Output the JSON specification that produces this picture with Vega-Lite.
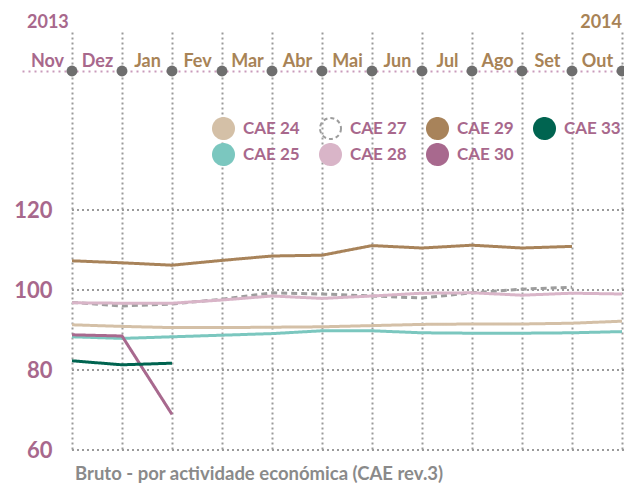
{
  "$schema": "https://vega.github.io/schema/vega-lite/v6.json",
  "autosize": "none",
  "padding": {"left": 22, "top": 32, "right": 2, "bottom": 34},
  "width": 600,
  "height": 418,
  "background": "white",
  "config": {"view": {"stroke": null}, "font": "Lato"},
  "resolve": {"axis": {"x": "independent", "y": "independent"}},
  "title": {
    "text": "Bruto - por actividade económica (CAE rev.3)",
    "orient": "bottom",
    "anchor": "start",
    "frame": "group",
    "dx": 53,
    "offset": 19,
    "font": "Lato",
    "fontSize": 18.5,
    "fontWeight": "bold",
    "color": "#8a8a8a",
    "baseline": "alphabetic"
  },
  "datasets": {
    "grid": [{"v": 60}, {"v": 80}, {"v": 100}, {"v": 120}],
    "ticks": [{"t": 0}, {"t": 1}, {"t": 2}, {"t": 3}, {"t": 4}, {"t": 5}, {"t": 6}, {"t": 7}, {"t": 8}, {"t": 9}, {"t": 10}, {"t": 11}],
    "years": [{"year": "2013"}, {"year": "2014"}],
    "series": [
      {"series": "CAE 24", "t": 0, "value": 91.3},
      {"series": "CAE 24", "t": 1, "value": 90.9},
      {"series": "CAE 24", "t": 2, "value": 90.6},
      {"series": "CAE 24", "t": 3, "value": 90.6},
      {"series": "CAE 24", "t": 4, "value": 90.7},
      {"series": "CAE 24", "t": 5, "value": 90.8},
      {"series": "CAE 24", "t": 6, "value": 91.1},
      {"series": "CAE 24", "t": 7, "value": 91.4},
      {"series": "CAE 24", "t": 8, "value": 91.5},
      {"series": "CAE 24", "t": 9, "value": 91.5},
      {"series": "CAE 24", "t": 10, "value": 91.7},
      {"series": "CAE 24", "t": 11, "value": 92.2},
      {"series": "CAE 25", "t": 0, "value": 88.3},
      {"series": "CAE 25", "t": 1, "value": 87.9},
      {"series": "CAE 25", "t": 2, "value": 88.3},
      {"series": "CAE 25", "t": 3, "value": 88.7},
      {"series": "CAE 25", "t": 4, "value": 89.1},
      {"series": "CAE 25", "t": 5, "value": 89.8},
      {"series": "CAE 25", "t": 6, "value": 89.8},
      {"series": "CAE 25", "t": 7, "value": 89.3},
      {"series": "CAE 25", "t": 8, "value": 89.2},
      {"series": "CAE 25", "t": 9, "value": 89.2},
      {"series": "CAE 25", "t": 10, "value": 89.3},
      {"series": "CAE 25", "t": 11, "value": 89.6},
      {"series": "CAE 27", "t": 0, "value": 96.9},
      {"series": "CAE 27", "t": 1, "value": 96.0},
      {"series": "CAE 27", "t": 2, "value": 96.5},
      {"series": "CAE 27", "t": 3, "value": 97.7},
      {"series": "CAE 27", "t": 4, "value": 99.3},
      {"series": "CAE 27", "t": 5, "value": 99.0},
      {"series": "CAE 27", "t": 6, "value": 98.5},
      {"series": "CAE 27", "t": 7, "value": 98.0},
      {"series": "CAE 27", "t": 8, "value": 99.3},
      {"series": "CAE 27", "t": 9, "value": 100.2},
      {"series": "CAE 27", "t": 10, "value": 100.7},
      {"series": "CAE 28", "t": 0, "value": 96.8},
      {"series": "CAE 28", "t": 1, "value": 96.7},
      {"series": "CAE 28", "t": 2, "value": 96.7},
      {"series": "CAE 28", "t": 3, "value": 97.5},
      {"series": "CAE 28", "t": 4, "value": 98.5},
      {"series": "CAE 28", "t": 5, "value": 97.9},
      {"series": "CAE 28", "t": 6, "value": 98.5},
      {"series": "CAE 28", "t": 7, "value": 99.2},
      {"series": "CAE 28", "t": 8, "value": 99.3},
      {"series": "CAE 28", "t": 9, "value": 98.7},
      {"series": "CAE 28", "t": 10, "value": 99.2},
      {"series": "CAE 28", "t": 11, "value": 99.0},
      {"series": "CAE 29", "t": 0, "value": 107.3},
      {"series": "CAE 29", "t": 1, "value": 106.8},
      {"series": "CAE 29", "t": 2, "value": 106.2},
      {"series": "CAE 29", "t": 3, "value": 107.4},
      {"series": "CAE 29", "t": 4, "value": 108.5},
      {"series": "CAE 29", "t": 5, "value": 108.7},
      {"series": "CAE 29", "t": 6, "value": 111.1},
      {"series": "CAE 29", "t": 7, "value": 110.5},
      {"series": "CAE 29", "t": 8, "value": 111.2},
      {"series": "CAE 29", "t": 9, "value": 110.5},
      {"series": "CAE 29", "t": 10, "value": 110.9},
      {"series": "CAE 30", "t": 0, "value": 88.8},
      {"series": "CAE 30", "t": 1, "value": 88.5},
      {"series": "CAE 30", "t": 2, "value": 68.9},
      {"series": "CAE 33", "t": 0, "value": 82.3},
      {"series": "CAE 33", "t": 1, "value": 81.3},
      {"series": "CAE 33", "t": 2, "value": 81.7}
    ]
  },
  "layer": [
    {
      "data": {"name": "grid"},
      "mark": {"type": "rule", "stroke": "#9a9a9a", "strokeWidth": 2, "strokeDash": [2, 3]},
      "encoding": {
        "y": {
          "field": "v", "type": "quantitative",
          "scale": {"domain": [60, 164.5], "nice": false, "zero": false},
          "axis": {
            "orient": "left", "offset": -30, "values": [60, 80, 100, 120], "title": null,
            "grid": false, "ticks": false, "domain": false,
            "labelFont": "Lato", "labelFontSize": 22, "labelFontWeight": "bold", "labelColor": "#a8688c",
            "labelPadding": 0, "labelOverlap": false, "labelFlush": false
          }
        },
        "x": {"datum": 0, "type": "quantitative", "scale": {"domain": [-1, 11], "nice": false, "zero": false}, "axis": null},
        "x2": {"datum": 11.04}
      }
    },
    {
      "data": {"name": "ticks"},
      "mark": {"type": "point", "filled": true, "color": "#6e6e6e", "size": 120, "opacity": 1},
      "encoding": {
        "x": {
          "field": "t", "type": "quantitative",
          "scale": {"domain": [-1, 11], "nice": false, "zero": false},
          "axis": {
            "orient": "bottom", "values": [0, 1, 2, 3, 4, 5, 6, 7, 8, 9, 10, 11],
            "grid": true, "gridColor": "#9a9a9a", "gridWidth": 2, "gridDash": [2, 3], "gridOpacity": 1,
            "labels": false, "ticks": false, "domain": false, "title": null
          }
        },
        "y": {"datum": 154.75, "type": "quantitative", "scale": {"domain": [60, 164.5], "nice": false, "zero": false}, "axis": null}
      }
    },
    {
      "data": {"name": "series"},
      "mark": {"type": "line", "strokeWidth": 3},
      "encoding": {
        "x": {
          "field": "t", "type": "quantitative",
          "scale": {"domain": [-1, 11], "nice": false, "zero": false},
          "axis": {
            "orient": "top", "offset": -39, "title": null,
            "values": [-0.5, 0.5, 1.5, 2.5, 3.5, 4.5, 5.5, 6.5, 7.5, 8.5, 9.5, 10.5],
            "labelExpr": "['Nov','Dez','Jan','Fev','Mar','Abr','Mai','Jun','Jul','Ago','Set','Out'][datum.value + 0.5]",
            "grid": false, "ticks": false, "tickSize": 0,
            "domain": true, "domainColor": "#c99bbb", "domainWidth": 2, "domainDash": [2, 4],
            "labelFont": "Lato", "labelFontSize": 18, "labelFontWeight": "bold",
            "labelColor": {"condition": {"test": "datum.value < 1", "value": "#a8688c"}, "value": "#a88356"},
            "labelBaseline": "alphabetic", "labelPadding": 5, "labelOverlap": false, "labelFlush": false
          }
        },
        "y": {
          "field": "value", "type": "quantitative",
          "scale": {"domain": [60, 164.5], "nice": false, "zero": false},
          "axis": null
        },
        "color": {
          "field": "series", "type": "nominal",
          "scale": {
            "domain": ["CAE 24", "CAE 27", "CAE 29", "CAE 33", "CAE 25", "CAE 28", "CAE 30"],
            "range": ["#d4c0a7", "#9d9d9d", "#a8835a", "#006450", "#7bc7bf", "#d9b5c8", "#a8698e"]
          },
          "legend": {
            "orient": "none", "legendX": 190, "legendY": 85, "direction": "horizontal", "columns": 4,
            "title": null, "padding": 0, "symbolType": "circle", "symbolSize": 441, "symbolStrokeWidth": 2,
            "labelFont": "Lato", "labelFontSize": 17, "labelFontWeight": "bold", "labelColor": "#a8688c",
            "labelOffset": 8, "columnPadding": 16, "rowPadding": -3, "labelLimit": 200,
            "encode": {
              "symbols": {
                "update": {
                  "fill": [{"test": "datum.value === 'CAE 27'", "value": "transparent"}, {"scale": "color", "field": "value"}],
                  "stroke": [{"test": "datum.value === 'CAE 27'", "value": "#9d9d9d"}, {"value": "transparent"}],
                  "strokeDash": [{"test": "datum.value === 'CAE 27'", "value": [4, 3]}, {"value": [1, 0]}],
                  "strokeWidth": {"value": 2},
                  "opacity": {"value": 1}
                }
              }
            }
          }
        },
        "strokeDash": {"condition": {"test": "datum.series === 'CAE 27'", "value": [6, 4]}, "value": [1, 0]}
      }
    },
    {
      "data": {"name": "years"},
      "transform": [{"filter": "datum.year === '2013'"}],
      "mark": {"type": "text", "align": "left", "baseline": "alphabetic", "font": "Lato", "fontSize": 18, "fontWeight": "bold", "color": "#a8688c"},
      "encoding": {
        "text": {"field": "year"},
        "x": {"datum": -0.9, "type": "quantitative", "scale": {"domain": [-1, 11], "nice": false, "zero": false}, "axis": null},
        "y": {"datum": 165.5, "type": "quantitative", "scale": {"domain": [60, 164.5], "nice": false, "zero": false}, "axis": null}
      }
    },
    {
      "data": {"name": "years"},
      "transform": [{"filter": "datum.year === '2014'"}],
      "mark": {"type": "text", "align": "right", "baseline": "alphabetic", "font": "Lato", "fontSize": 18, "fontWeight": "bold", "color": "#a88356"},
      "encoding": {
        "text": {"field": "year"},
        "x": {"datum": 11, "type": "quantitative", "scale": {"domain": [-1, 11], "nice": false, "zero": false}, "axis": null},
        "y": {"datum": 165.5, "type": "quantitative", "scale": {"domain": [60, 164.5], "nice": false, "zero": false}, "axis": null}
      }
    }
  ]
}
